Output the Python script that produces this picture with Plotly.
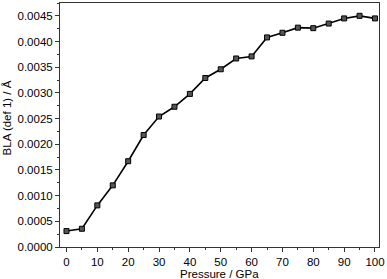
import plotly.graph_objects as go

pressure = [0, 5, 10, 15, 20, 25, 30, 35, 40, 45, 50, 55, 60, 65, 70, 75, 80, 85, 90, 95, 100]
bla = [0.00031, 0.000355, 0.00081, 0.00120, 0.00167, 0.00218, 0.00254, 0.00273, 0.00298,
       0.00329, 0.00346, 0.00367, 0.00371, 0.00408, 0.00417, 0.00427, 0.00426, 0.00435,
       0.00445, 0.00450, 0.00445]

x_ticks = [0, 10, 20, 30, 40, 50, 60, 70, 80, 90, 100]
y_ticks = [0.0, 0.0005, 0.0010, 0.0015, 0.0020, 0.0025, 0.0030, 0.0035, 0.0040, 0.0045]

font = "Liberation Sans, Arial, sans-serif"

fig = go.Figure()
fig.add_trace(go.Scatter(
    x=pressure, y=bla, mode="lines+markers",
    line=dict(color="black", width=1.6),
    marker=dict(symbol="square", size=5, color="#555555", line=dict(color="black", width=1)),
    showlegend=False,
))

axis_common = dict(
    showline=True, linecolor="#333333", linewidth=1, mirror=True,
    ticks="outside", ticklen=4, tickwidth=1, tickcolor="#333333",
    showgrid=False, zeroline=False, ticklabeloverflow="allow",
    tickfont=dict(family=font, size=11.5, color="black"),
)

fig.update_layout(
    width=387, height=279,
    margin=dict(l=60, r=5, t=2, b=32),
    paper_bgcolor="white", plot_bgcolor="white",
    xaxis=dict(range=[-2.1, 101.3], tickvals=x_ticks,
               minor=dict(ticks="outside", ticklen=2, dtick=5, tick0=0, tickcolor="#333333"),
               **axis_common),
    yaxis=dict(range=[0, 0.00475], tickvals=y_ticks, tickformat=".4f",
               minor=dict(ticks="outside", ticklen=2, dtick=0.00025, tick0=0, tickcolor="#333333"),
               **axis_common),
    annotations=[
        dict(text="Pressure / GPa", xref="paper", yref="paper", x=0.5, y=0,
             yshift=-19, yanchor="top", showarrow=False,
             font=dict(family=font, size=11.5, color="black")),
        dict(text="BLA (def 1) / Å", xref="paper", yref="paper", x=0, y=0.527,
             xshift=-53, xanchor="center", yanchor="middle", textangle=-90, showarrow=False,
             font=dict(family=font, size=11.5, color="black")),
    ],
)

fig.write_html("out.html", config={"displayModeBar": False})
with open("out.html", encoding="utf-8") as f:
    html = f.read()
html = html.replace("<head>", "<head><style>html,body{margin:0;padding:0;overflow:hidden;}</style>", 1)
with open("out.html", "w", encoding="utf-8") as f:
    f.write(html)
